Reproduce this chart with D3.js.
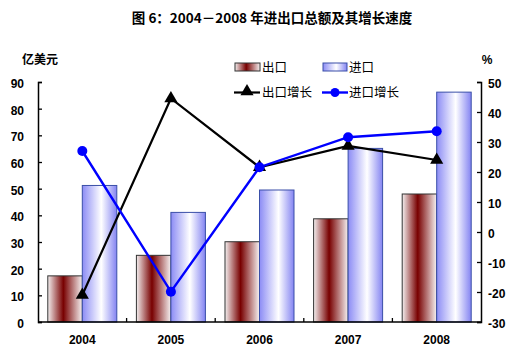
<!DOCTYPE html>
<html><head><meta charset="utf-8">
<script src="https://cdn.jsdelivr.net/npm/d3@7"></script>
<style>
body{margin:0;background:#fff;}
svg{display:block;}
</style></head>
<body>
<svg id="chart" width="517" height="355"></svg>
<script>
const years = ["2004","2005","2006","2007","2008"];
const exportVals = [17.3, 25.0, 30.1, 38.7, 48.0];
const importVals = [51.2, 41.1, 49.5, 65.1, 86.2];
const exportGrowth = [-21.0, 44.5, 21.6, 28.7, 24.0];
const importGrowth = [27.0, -19.9, 21.6, 31.6, 33.6];
const leftTicks = [0,10,20,30,40,50,60,70,80,90];
const rightTicks = [-30,-20,-10,0,10,20,30,40,50];
const seriesNames = ["出口","进口","出口增长","进口增长"];
const titleText = "图 6：2004－2008 年进出口总额及其增长速度";

const svg = d3.select("#chart");
const m = {left:38, right:36, top:82, bottom:33};
const W = 517, H = 355;
const x0 = m.left, x1 = W - m.right, yTop = m.top, yBot = H - m.bottom;

const x = d3.scaleBand().domain(years).range([x0, x1]).padding(0);
const xs = d3.scaleBand().domain(["e","i"]).range([0, x.bandwidth()]).paddingInner(0).paddingOuter(0.284);
const yL = d3.scaleLinear().domain([0,90]).range([yBot, yTop]);
const yR = d3.scaleLinear().domain([-30,50]).range([yBot, yTop]);

const defs = svg.append("defs");
const gE = defs.append("linearGradient").attr("id","gExp").attr("x1","0").attr("x2","1").attr("y1","0").attr("y2","0");
gE.append("stop").attr("offset","0").attr("stop-color","#f4f0f0");
gE.append("stop").attr("offset","0.45").attr("stop-color","#780000");
gE.append("stop").attr("offset","1").attr("stop-color","#f6f2f2");
const gI = defs.append("linearGradient").attr("id","gImp").attr("x1","0").attr("x2","1").attr("y1","0").attr("y2","0");
gI.append("stop").attr("offset","0").attr("stop-color","#8c8cf5");
gI.append("stop").attr("offset","0.55").attr("stop-color","#ffffff");
gI.append("stop").attr("offset","1").attr("stop-color","#8484f2");

// title
svg.append("text").attr("x",272).attr("y",23).attr("text-anchor","middle")
  .attr("font-family","'Noto Sans CJK SC', sans-serif").attr("font-weight","bold").attr("font-size","13.5px")
  .text(titleText);

// unit labels
svg.append("text").attr("x",40).attr("y",64).attr("text-anchor","middle")
  .attr("font-family","'Noto Sans CJK SC', sans-serif").attr("font-weight","bold").attr("font-size","12px").text("亿美元");
svg.append("text").attr("x",487).attr("y",64).attr("text-anchor","middle")
  .attr("font-family","Liberation Sans, Arial, sans-serif").attr("font-weight","bold").attr("font-size","12px").text("%");

// bars
const bars = svg.append("g");
years.forEach((yr,i)=>{
  bars.append("rect").attr("x", x(yr)+xs("e")).attr("width", xs.bandwidth())
    .attr("y", yL(exportVals[i])).attr("height", yBot - yL(exportVals[i]))
    .attr("fill","url(#gExp)").attr("stroke","#333").attr("stroke-width",1);
  bars.append("rect").attr("x", x(yr)+xs("i")).attr("width", xs.bandwidth())
    .attr("y", yL(importVals[i])).attr("height", yBot - yL(importVals[i]))
    .attr("fill","url(#gImp)").attr("stroke","#3a4fa8").attr("stroke-width",1);
});

// axes
const fontAx = "Liberation Sans, Arial, sans-serif";
const axL = svg.append("g").attr("transform",`translate(${x0},0)`)
  .call(d3.axisRight(yL).tickValues(leftTicks).tickSize(4).tickFormat(""));
axL.select(".domain").attr("stroke","#000").attr("stroke-width",1.5);
axL.selectAll(".tick line").attr("stroke","#000").attr("stroke-width",1.3);
svg.append("g").selectAll("text").data(leftTicks).join("text")
  .attr("x",24).attr("y",d=>yL(d)+6).attr("text-anchor","end")
  .attr("font-family",fontAx).attr("font-weight","bold").attr("font-size","12px").text(d=>d);

const axR = svg.append("g").attr("transform",`translate(${x1},0)`)
  .call(d3.axisLeft(yR).tickValues(rightTicks).tickSize(4).tickFormat(""));
axR.select(".domain").attr("stroke","#000").attr("stroke-width",1.5);
axR.selectAll(".tick line").attr("stroke","#000").attr("stroke-width",1.3);
svg.append("g").selectAll("text").data(rightTicks).join("text")
  .attr("x",488).attr("y",d=>yR(d)+6).attr("text-anchor","start")
  .attr("font-family",fontAx).attr("font-weight","bold").attr("font-size","12px").text(d=>d);

// x axis
svg.append("line").attr("x1",x0).attr("x2",x1).attr("y1",yBot).attr("y2",yBot).attr("stroke","#000").attr("stroke-width",1.5);
svg.append("g").selectAll("line").data(years.slice(1)).join("line")
  .attr("x1",d=>x(d)).attr("x2",d=>x(d)).attr("y1",yBot).attr("y2",yBot-4).attr("stroke","#000").attr("stroke-width",1.3);
svg.append("g").selectAll("text").data(years).join("text")
  .attr("x",d=>x(d)+x.bandwidth()/2).attr("y",yBot+22).attr("text-anchor","middle")
  .attr("font-family",fontAx).attr("font-weight","bold").attr("font-size","12px").text(d=>d);

// lines
const cx = d=>x(d)+x.bandwidth()/2;
const lineE = d3.line().x((d,i)=>cx(years[i])).y(d=>yR(d));
svg.append("path").attr("d", lineE(exportGrowth)).attr("fill","none").attr("stroke","#000").attr("stroke-width",2.2);
svg.append("path").attr("d", lineE(importGrowth)).attr("fill","none").attr("stroke","#0000ff").attr("stroke-width",2.4);
const tri = d3.symbol().type(d3.symbolTriangle).size(75);
svg.append("g").selectAll("path").data(exportGrowth).join("path")
  .attr("d", tri).attr("transform",(d,i)=>`translate(${cx(years[i])},${yR(d)})`).attr("fill","#000");
svg.append("g").selectAll("circle").data(importGrowth).join("circle")
  .attr("cx",(d,i)=>cx(years[i])).attr("cy",d=>yR(d)).attr("r",5).attr("fill","#0000ff");

// legend
const lg = svg.append("g");
const lfont = "'Noto Sans CJK SC', sans-serif";
lg.append("rect").attr("x",235).attr("y",63).attr("width",25).attr("height",8).attr("fill","url(#gExp)").attr("stroke","#333");
lg.append("text").attr("x",262).attr("y",72).attr("font-family",lfont).attr("font-size","12.5px").text(seriesNames[0]);
lg.append("rect").attr("x",323).attr("y",63).attr("width",24).attr("height",8).attr("fill","url(#gImp)").attr("stroke","#3a4fa8");
lg.append("text").attr("x",349).attr("y",72).attr("font-family",lfont).attr("font-size","12.5px").text(seriesNames[1]);
lg.append("line").attr("x1",234).attr("x2",260).attr("y1",92.5).attr("y2",92.5).attr("stroke","#000").attr("stroke-width",2.2);
lg.append("path").attr("d",tri).attr("transform","translate(247,91.5)").attr("fill","#000");
lg.append("text").attr("x",262).attr("y",97).attr("font-family",lfont).attr("font-size","12.5px").text(seriesNames[2]);
lg.append("line").attr("x1",322).attr("x2",348).attr("y1",92.5).attr("y2",92.5).attr("stroke","#0000ff").attr("stroke-width",2.4);
lg.append("circle").attr("cx",335).attr("cy",92.5).attr("r",4.5).attr("fill","#0000ff");
lg.append("text").attr("x",349).attr("y",97).attr("font-family",lfont).attr("font-size","12.5px").text(seriesNames[3]);
</script>
</body></html>
